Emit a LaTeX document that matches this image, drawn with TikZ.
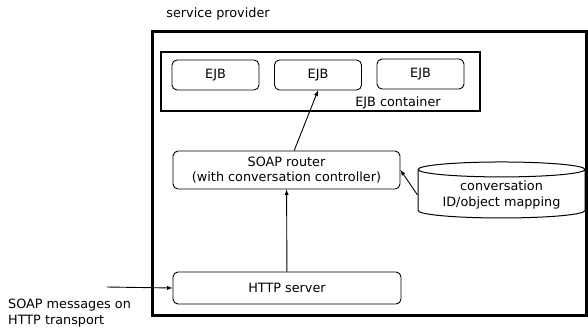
\documentclass[tikz,border=0pt]{standalone}
\usepackage{fontspec}
\setmainfont{DejaVu Sans}
\usetikzlibrary{shapes,arrows,positioning}

\begin{document}
\begin{tikzpicture}[x=1pt,y=-1pt,font=\fontsize{12.8}{15.5}\selectfont,
	box/.style={draw,rounded corners=5pt,line width=0.9pt,inner sep=0pt},
	ejbbox/.style={box,minimum width=87pt,minimum height=30pt}]
	\useasboundingbox (0,0) rectangle (588,327);

	\node (title) at (218,14) {service provider};
	\node[draw,line width=2.6pt,minimum width=434pt,minimum height=284pt] (provider) at (369.5,173.5) {};
	\node[draw,line width=1.3pt,minimum width=319pt,minimum height=59pt] (container) at (320.5,81.5) {};

	\node[ejbbox] (ejb1) at (215.5,75) {EJB};
	\node[ejbbox] (ejb2) at (318,75) {EJB};
	\node[ejbbox] (ejb3) at (420.5,74) {EJB};
	\node (clabel) at (398,103) {EJB container};

	\node[box,minimum width=227pt,minimum height=38pt,align=center] (router) at (286.5,170) {SOAP router\\(with conversation controller)};
	\node[shape=cylinder,shape border rotate=90,aspect=0.12,draw,line width=1pt,
		minimum width=167pt,minimum height=56pt,align=center] (db) at (501.5,195) {conversation\\ID/object mapping};
	\node[box,minimum width=228pt,minimum height=32pt] (http) at (287,288) {HTTP server};

	\coordinate (in) at (107,287);
	\node[anchor=north west,align=left,inner sep=0pt] (intext) at (8,299) {SOAP messages on\\HTTP transport};

	\path [-latex,line width=0.9pt] (router) edge (ejb2.south);
	\path [-latex,line width=0.9pt] (db.west) edge (router.east);
	\path [-latex,line width=0.9pt] (http) edge (router);
	\path [-latex,line width=0.9pt] (in) edge (http.west);
\end{tikzpicture}
\end{document}
